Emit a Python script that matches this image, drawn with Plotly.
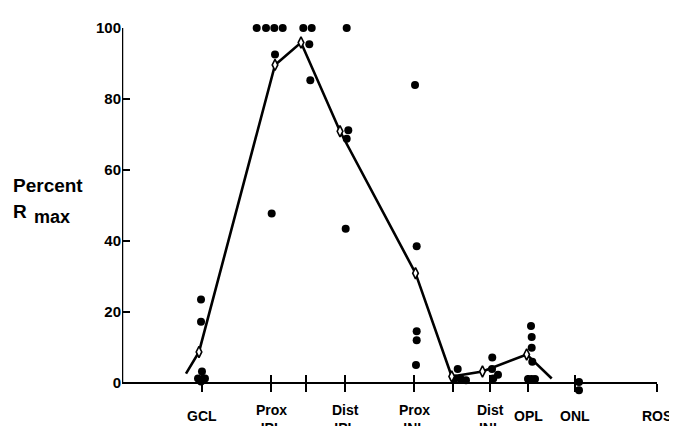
import plotly.graph_objects as go

# ---- data ----
# x axis positions (arbitrary depth units, 0 = y-axis, 100 = ROS)
tick_vals = [14.9, 27.85, 34.4, 41.7, 54.6, 61.8, 68.8, 75.9, 84.7, 100.0]
label_vals = [14.9, 27.85, 41.7, 54.6, 68.8, 75.9, 84.7, 100.0]
label_text = ["GCL", "Prox<br>IPL", "Dist<br>IPL", "Prox<br>INL", "Dist<br>INL", "OPL", "ONL", "ROS"]

# mean curve (open diamonds), including the two end stubs
mean_x = [11.96, 14.39, 28.60, 33.46, 40.75, 54.86, 61.63, 67.38, 75.64, 80.32]
mean_y = [2.6, 8.7, 89.6, 95.9, 70.9, 30.9, 1.8, 3.2, 8.0, 1.2]

# individual cells (filled dots)
cell_x = [14.77, 14.77, 14.95, 14.21, 15.51, 14.77,
          25.18, 26.92, 28.47, 30.04, 28.60, 27.98,
          33.89, 35.46, 35.01, 35.20,
          42.00, 42.30, 42.00, 41.81,
          54.77, 55.08, 55.08, 55.08, 54.95,
          62.75, 62.24, 63.36, 64.30,
          69.21, 69.16, 70.28, 69.40,
          76.45, 76.58, 76.58, 76.69, 75.89, 76.54, 77.20,
          85.42, 85.42]
cell_y = [23.5, 17.2, 3.2, 1.2, 1.2, 0.4,
          100, 100, 100, 100, 92.5, 47.7,
          100, 100, 95.4, 85.3,
          100, 71.2, 68.8, 43.4,
          83.9, 38.5, 14.5, 12.0, 5.0,
          3.9, 1.2, 1.0, 0.7,
          7.1, 3.9, 2.3, 1.2,
          16.0, 12.9, 9.9, 5.9, 1.1, 1.1, 1.1,
          0.2, -2.1]

y_ticks = [0, 20, 40, 60, 80, 100]
Y_MIN, Y_MAX = -4, 100

FONT = "Liberation Sans, Arial, sans-serif"

fig = go.Figure()

fig.add_trace(go.Scatter(
    x=cell_x, y=cell_y, mode="markers",
    marker=dict(color="black", size=8, line=dict(width=0)),
    cliponaxis=False, showlegend=False, hoverinfo="skip"))

fig.add_trace(go.Scatter(
    x=mean_x, y=mean_y, mode="lines",
    line=dict(color="black", width=2.6),
    cliponaxis=False, showlegend=False, hoverinfo="skip"))

fig.add_trace(go.Scatter(
    x=mean_x[1:-1], y=mean_y[1:-1], mode="markers",
    marker=dict(symbol="diamond-tall", color="white", size=8,
                line=dict(color="black", width=1.6)),
    cliponaxis=False, showlegend=False, hoverinfo="skip"))

# empty trace so the overlay axis (inner half of x ticks) is drawn
fig.add_trace(go.Scatter(x=[], y=[], xaxis="x2", showlegend=False))

zero_pos = (0 - Y_MIN) / (Y_MAX - Y_MIN)   # paper position of y = 0

# the page body has an 8 px margin, so the figure is 8 px smaller than the window
# y = 0 sits at window row 382.5, y = 100 at row 19.5 (3.63 px per unit)
PPU = 3.63
bottom_row = 382.5 + (0 - Y_MIN) * PPU
fig.update_layout(
    width=669, height=418,
    margin=dict(l=114, r=20, t=11.5, b=426 - bottom_row),
    paper_bgcolor="white", plot_bgcolor="white",
    font=dict(family=FONT, size=15, color="black", weight="bold"),
    xaxis=dict(range=[0, 100], showgrid=False, zeroline=False,
               anchor="free", position=zero_pos,
               showline=True, linecolor="black", linewidth=2,
               ticks="outside", ticklen=8, tickwidth=2, tickcolor="black",
               tickvals=tick_vals, showticklabels=False, layer="below traces"),
    xaxis2=dict(range=[0, 100], overlaying="x", matches="x", anchor="free",
                position=zero_pos, side="bottom",
                showgrid=False, zeroline=False, showline=False,
                ticks="inside", ticklen=8, tickwidth=2, tickcolor="black",
                tickvals=tick_vals, showticklabels=False, layer="below traces"),
    yaxis=dict(range=[Y_MIN, Y_MAX], showgrid=False, zeroline=False,
               showline=False,
               ticks="inside", ticklen=8, tickwidth=2, tickcolor="black",
               tickvals=y_ticks, ticktext=[str(v) for v in y_ticks],
               tickfont=dict(family=FONT, size=15, weight="bold")),
)

# vertical axis line from 0 to 100 only
fig.add_shape(type="line", xref="x", yref="y", x0=0, x1=0,
              y0=y_ticks[0], y1=y_ticks[-1],
              line=dict(color="black", width=2.5), layer="above")

plot_h = bottom_row - 19.5

def py(pix):
    # convert a pixel row of the window to paper coordinates
    return (bottom_row - pix) / plot_h

def pxp(pix):
    return (pix - 122) / 535.0

for xv, txt in zip(label_vals, label_text):
    two = "<br>" in txt
    fig.add_annotation(
        x=xv, xref="x", y=py(400.5) if two else py(416.5), yref="paper",
        yanchor="top" if two else "middle", xanchor="center",
        text=txt, showarrow=False,
        font=dict(family=FONT, size=14, weight="bold"))

fig.add_annotation(x=pxp(48), xref="paper", y=py(180.7), yref="paper",
                   text="Percent", showarrow=False, xanchor="center", yanchor="middle",
                   font=dict(family=FONT, size=19, weight="bold"))
fig.add_annotation(x=pxp(19.5), xref="paper", y=py(207.3), yref="paper",
                   text="R", showarrow=False, xanchor="center", yanchor="middle",
                   font=dict(family=FONT, size=19, weight="bold"))
fig.add_annotation(x=pxp(52), xref="paper", y=py(212.4), yref="paper",
                   text="max", showarrow=False, xanchor="center", yanchor="middle",
                   font=dict(family=FONT, size=18, weight="bold"))

fig.write_html("out.html")
